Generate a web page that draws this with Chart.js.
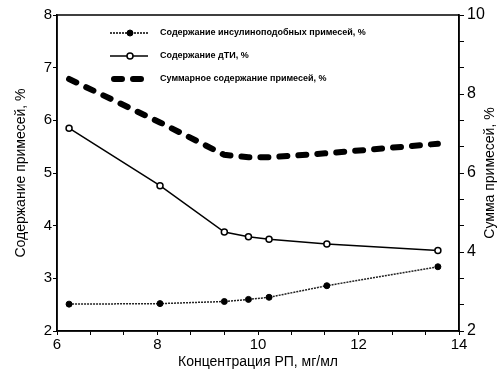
<!DOCTYPE html>
<html>
<head>
<meta charset="utf-8">
<script src="https://cdn.jsdelivr.net/npm/chart.js@4"></script>
<style>
  html, body { margin: 0; padding: 0; background: #fff; }
  #wrap { width: 498px; height: 374px; }
</style>
</head>
<body>
<div id="wrap"><canvas id="c" width="498" height="374"></canvas></div>
<script>
const concentration = [6.24, 8.05, 9.33, 9.81, 10.22, 11.37, 13.58]
const insulinLike = [2.51, 2.52, 2.56, 2.6, 2.64, 2.86, 3.22]
const dti = [5.85, 4.76, 3.88, 3.79, 3.74, 3.65, 3.53]
const total = [8.38, 7.28, 6.46, 6.4, 6.4, 6.5, 6.74]

const legendLabels = [
  'Содержание инсулиноподобных примесей, %',
  'Содержание дТИ, %',
  'Суммарное содержание примесей, %'
]
const xTitle = 'Концентрация РП, мг/мл'
const leftTitle = 'Содержание примесей, %'
const rightTitle = 'Сумма примесей, %'

const FONT = 'Liberation Sans'

function toPoints(ys) {
  return concentration.map((x, i) => ({ x: x, y: ys[i] }))
}

function isWhole(v) {
  return Math.abs(v - Math.round(v)) < 1e-6
}

// frame, legend inside the plot and right-hand title
const decorations = {
  id: 'decorations',
  afterDraw(chart) {
    const { ctx, chartArea } = chart
    ctx.save()
    ctx.strokeStyle = '#000'
    ctx.lineWidth = 1.5
    ctx.strokeRect(chartArea.left, chartArea.top,
      chartArea.right - chartArea.left, chartArea.bottom - chartArea.top)

    // legend
    const rows = [33, 56, 79]
    chart.data.datasets.forEach((ds, i) => {
      const y = rows[i]
      ctx.save()
      ctx.strokeStyle = '#000'
      ctx.lineWidth = ds.borderWidth
      ctx.setLineDash(ds.borderDash || [])
      ctx.lineCap = ds.borderCapStyle || 'butt'
      ctx.beginPath()
      if (i === 2) {
        ctx.moveTo(114, y)
        ctx.lineTo(148, y)
      } else {
        ctx.moveTo(110, y)
        ctx.lineTo(148, y)
      }
      ctx.stroke()
      ctx.setLineDash([])
      if (ds.pointRadius > 0) {
        ctx.beginPath()
        ctx.arc(130, y, ds.pointRadius, 0, Math.PI * 2)
        ctx.fillStyle = ds.pointBackgroundColor
        ctx.fill()
        ctx.lineWidth = ds.pointBorderWidth
        ctx.stroke()
      }
      ctx.restore()
      ctx.fillStyle = '#000'
      ctx.font = 'bold 9px "' + FONT + '"'
      ctx.textBaseline = 'middle'
      ctx.fillText(legendLabels[i], 160, y)
    })

    // right axis title, reads bottom to top
    ctx.translate(490, (chartArea.top + chartArea.bottom) / 2)
    ctx.rotate(-Math.PI / 2)
    ctx.font = '14px "' + FONT + '"'
    ctx.textAlign = 'center'
    ctx.textBaseline = 'middle'
    ctx.fillStyle = '#000'
    ctx.fillText(rightTitle, 0, 0)
    ctx.restore()
  }
}

const config = {
  type: 'line',
  data: {
    datasets: [
      {
        label: legendLabels[0],
        data: toPoints(insulinLike),
        yAxisID: 'y',
        borderColor: '#222',
        borderWidth: 1.5,
        borderDash: [2, 1],
        pointRadius: 3,
        pointBackgroundColor: '#000',
        pointBorderColor: '#000',
        pointBorderWidth: 1,
        tension: 0
      },
      {
        label: legendLabels[1],
        data: toPoints(dti),
        yAxisID: 'y',
        borderColor: '#000',
        borderWidth: 1.5,
        pointRadius: 3,
        pointBackgroundColor: '#fff',
        pointBorderColor: '#000',
        pointBorderWidth: 1.5,
        tension: 0
      },
      {
        label: legendLabels[2],
        data: toPoints(total),
        yAxisID: 'y2',
        borderColor: '#000',
        borderWidth: 6,
        borderDash: [8, 11],
        borderCapStyle: 'round',
        pointRadius: 0,
        tension: 0
      }
    ]
  },
  options: {
    responsive: false,
    animation: false,
    layout: { padding: { top: 15, left: 0, right: 0, bottom: 0 } },
    plugins: {
      legend: { display: false },
      tooltip: { enabled: false }
    },
    scales: {
      x: {
        type: 'linear',
        min: 6,
        max: 14,
        afterBuildTicks: (scale) => {
          const t = []
          for (let i = 0; i <= 12; i++) t.push({ value: 6 + i * 2 / 3 })
          scale.ticks = t
        },
        afterFit: (scale) => { scale.height = 43 },
        border: { display: true, color: '#000', width: 1.5 },
        grid: { drawOnChartArea: false, color: '#000', tickLength: 4 },
        ticks: {
          color: '#000',
          padding: 1,
          maxRotation: 0,
          autoSkip: false,
          font: { family: FONT, size: 15 },
          callback: (v) => isWhole(v) && Math.round(v) % 2 === 0 ? String(Math.round(v)) : ''
        },
        title: {
          display: true,
          text: xTitle,
          color: '#000',
          font: { family: FONT, size: 14 },
          padding: { top: 0, bottom: 3 }
        }
      },
      y: {
        position: 'left',
        min: 2,
        max: 8,
        afterFit: (scale) => { scale.width = 57 },
        border: { display: true, color: '#000', width: 1.5 },
        grid: { drawOnChartArea: false, color: '#000', tickLength: 4 },
        ticks: {
          stepSize: 1,
          color: '#000',
          padding: 1,
          font: { family: FONT, size: 15 }
        },
        title: {
          display: true,
          text: leftTitle,
          color: '#000',
          font: { family: FONT, size: 14 },
          padding: { top: 13, bottom: 0 }
        }
      },
      y2: {
        position: 'right',
        min: 2,
        max: 10,
        afterBuildTicks: (scale) => {
          const t = []
          for (let i = 0; i <= 12; i++) t.push({ value: 2 + i * 2 / 3 })
          scale.ticks = t
        },
        afterFit: (scale) => { scale.width = 39 },
        border: { display: true, color: '#000', width: 1.5 },
        grid: { drawOnChartArea: false, color: '#000', tickLength: 5 },
        ticks: {
          color: '#000',
          padding: 3,
          autoSkip: false,
          font: { family: FONT, size: 16 },
          callback: (v) => isWhole(v) && Math.round(v) % 2 === 0 ? String(Math.round(v)) : ''
        }
      }
    }
  },
  plugins: [decorations]
}

new Chart(document.getElementById('c').getContext('2d'), config)
</script>
</body>
</html>
